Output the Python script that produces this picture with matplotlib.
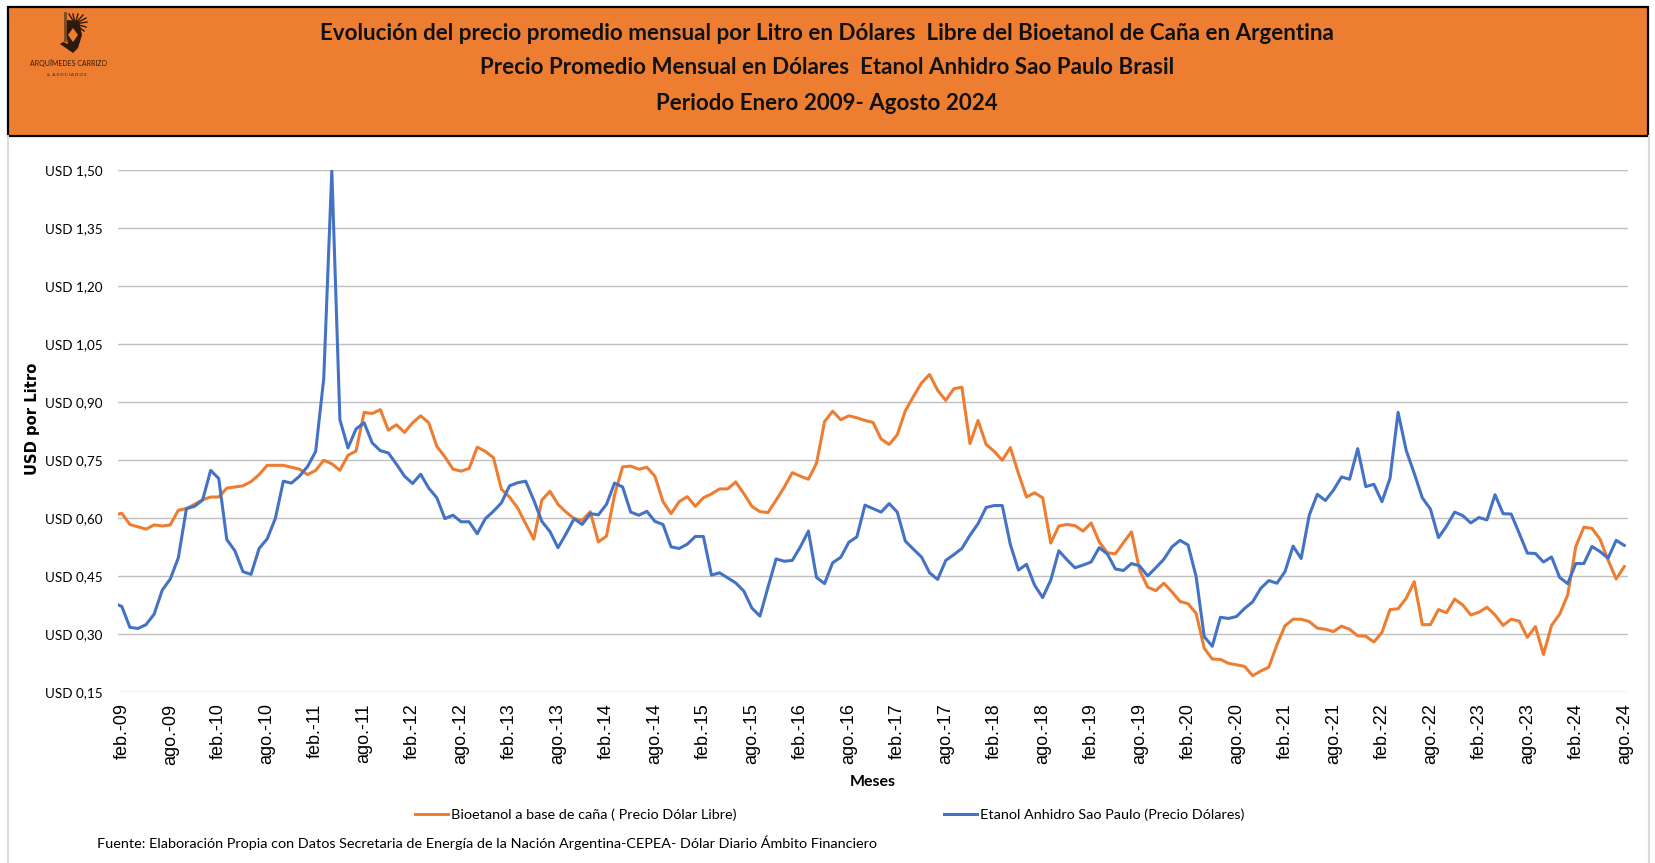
# %% imports
import matplotlib

matplotlib.use("Agg")
import matplotlib.pyplot as plt
import numpy as np
from matplotlib.lines import Line2D
from matplotlib.patches import Polygon, Rectangle

# %% data, first value of each series is ene.-09
bioetanol = [
    0.608, 0.613, 0.584, 0.578, 0.572, 0.583, 0.580, 0.583, 0.621, 0.625, 0.636, 0.648, 0.655, 0.655, 0.678, 0.681,
    0.684, 0.695, 0.713, 0.737, 0.737, 0.737, 0.732, 0.727, 0.713, 0.724, 0.750, 0.741, 0.724, 0.763, 0.774, 0.874,
    0.871, 0.881, 0.828, 0.842, 0.822, 0.847, 0.865, 0.847, 0.786, 0.759, 0.727, 0.722, 0.729, 0.784, 0.773, 0.757,
    0.675, 0.655, 0.627, 0.586, 0.546, 0.647, 0.670, 0.636, 0.616, 0.599, 0.595, 0.617, 0.539, 0.554, 0.660, 0.733,
    0.735, 0.727, 0.732, 0.709, 0.643, 0.612, 0.643, 0.656, 0.631, 0.653, 0.663, 0.676, 0.676, 0.694, 0.664, 0.631,
    0.617, 0.615, 0.647, 0.680, 0.718, 0.709, 0.701, 0.742, 0.850, 0.877, 0.855, 0.865, 0.860, 0.853, 0.848, 0.805,
    0.791, 0.816, 0.878, 0.915, 0.950, 0.972, 0.931, 0.905, 0.935, 0.939, 0.793, 0.853, 0.791, 0.773, 0.750, 0.783,
    0.716, 0.655, 0.666, 0.653, 0.536, 0.580, 0.584, 0.581, 0.567, 0.588, 0.539, 0.511, 0.508, 0.537, 0.565, 0.466,
    0.422, 0.413, 0.432, 0.410, 0.385, 0.379, 0.354, 0.264, 0.236, 0.235, 0.225, 0.221, 0.217, 0.193, 0.205, 0.215,
    0.273, 0.322, 0.339, 0.339, 0.333, 0.316, 0.313, 0.307, 0.321, 0.313, 0.296, 0.295, 0.280, 0.305, 0.364, 0.366,
    0.393, 0.436, 0.325, 0.325, 0.364, 0.356, 0.391, 0.376, 0.350, 0.357, 0.370, 0.350, 0.323, 0.339, 0.334, 0.292,
    0.320, 0.248, 0.323, 0.352, 0.402, 0.527, 0.577, 0.574, 0.546, 0.492, 0.443, 0.475,
]
etanol = [
    0.381, 0.372, 0.318, 0.315, 0.325, 0.352, 0.414, 0.443, 0.498, 0.625, 0.631, 0.647, 0.724, 0.703, 0.545, 0.516,
    0.462, 0.455, 0.522, 0.547, 0.599, 0.696, 0.691, 0.709, 0.734, 0.773, 0.961, 1.500, 0.855, 0.782, 0.831, 0.847,
    0.795, 0.775, 0.769, 0.740, 0.709, 0.690, 0.714, 0.678, 0.653, 0.599, 0.608, 0.591, 0.591, 0.560, 0.599, 0.618,
    0.640, 0.684, 0.692, 0.696, 0.647, 0.592, 0.566, 0.524, 0.560, 0.599, 0.584, 0.612, 0.609, 0.636, 0.691, 0.681,
    0.616, 0.608, 0.618, 0.592, 0.584, 0.526, 0.522, 0.533, 0.553, 0.553, 0.453, 0.459, 0.446, 0.433, 0.412, 0.368,
    0.347, 0.422, 0.495, 0.489, 0.491, 0.526, 0.567, 0.447, 0.431, 0.485, 0.499, 0.538, 0.552, 0.634, 0.625, 0.616,
    0.638, 0.616, 0.541, 0.520, 0.500, 0.459, 0.442, 0.491, 0.506, 0.522, 0.556, 0.586, 0.628, 0.633, 0.633, 0.532,
    0.466, 0.481, 0.427, 0.395, 0.440, 0.516, 0.493, 0.472, 0.479, 0.487, 0.524, 0.508, 0.469, 0.465, 0.483, 0.477,
    0.451, 0.472, 0.494, 0.526, 0.543, 0.531, 0.449, 0.294, 0.269, 0.344, 0.341, 0.346, 0.367, 0.384, 0.419, 0.439,
    0.432, 0.462, 0.528, 0.496, 0.608, 0.662, 0.646, 0.673, 0.707, 0.701, 0.780, 0.682, 0.688, 0.643, 0.703, 0.874,
    0.776, 0.716, 0.653, 0.624, 0.550, 0.580, 0.616, 0.607, 0.588, 0.602, 0.596, 0.661, 0.612, 0.611, 0.561, 0.510,
    0.509, 0.487, 0.500, 0.447, 0.431, 0.483, 0.483, 0.527, 0.514, 0.497, 0.543, 0.530,
]
y_ticks = [0.15, 0.30, 0.45, 0.60, 0.75, 0.90, 1.05, 1.20, 1.35, 1.50]
x_labels = [f"{m}.-{y:02d}" for y in range(9, 25) for m in ("feb", "ago")]
title_lines = [
    "Evolución del precio promedio mensual por Litro en Dólares  Libre del Bioetanol de Caña en Argentina",
    "Precio Promedio Mensual en Dólares  Etanol Anhidro Sao Paulo Brasil",
    "Periodo Enero 2009- Agosto 2024",
]

W, H = 1656, 863
ORANGE = "#ED7D31"
BLUE = "#4472C4"
DARK = "#2E1A0C"


def fx(px):
    return px / W


def fy(py):
    return 1 - py / H


# %% figure
fig = plt.figure(figsize=(W / 100, H / 100), dpi=100)

# side rules of the slide and the header band
fig.add_artist(Line2D([fx(8), fx(8)], [0, fy(136)], color="#DADADA", lw=1.4))
fig.add_artist(Line2D([fx(1649), fx(1649)], [0, fy(136)], color="#DADADA", lw=1.6))
fig.add_artist(
    Rectangle((fx(8), fy(136)), fx(1640), 129 / H, facecolor=ORANGE, edgecolor="black", lw=1.6)
)
for txt, py in zip(title_lines, [34, 68, 103]):
    fig.text(fx(827), fy(py), txt, ha="center", va="center", family="Lato", weight="bold", size=16.1, color="#111111")

# logo, rough
fig.add_artist(Line2D([fx(65), fx(65)], [fy(13), fy(40)], color="#7A4A20", lw=2.0))
feathers = [(-6, -10), (-2, -10), (3, -10), (8, -9), (11, -6), (12, -2), (11, 3), (9, 7)]
for dx, dy in feathers:
    fig.add_artist(Line2D([fx(75), fx(75 + dx)], [fy(24), fy(24 + dy)], color=DARK, lw=1.0))
fig.add_artist(Polygon(
    [(fx(67), fy(20)), (fx(79), fy(21)), (fx(82), fy(35)), (fx(78), fy(48)), (fx(73), fy(53)),
     (fx(60), fy(44)), (fx(63), fy(42)), (fx(68), fy(44)), (fx(66), fy(32))],
    closed=True, facecolor=DARK, edgecolor="none",
))
fig.add_artist(Polygon(
    [(fx(73), fy(28)), (fx(78), fy(35)), (fx(73), fy(42)), (fx(68), fy(35))],
    closed=True, facecolor=ORANGE, edgecolor="none",
))
fig.text(fx(69), fy(63), "ARQUÍMEDES CARRIZO", ha="center", va="center", family="Lato", size=5.0, color=DARK)
fig.text(fx(67), fy(75), "&  A S O C I A D O S", ha="center", va="center", family="Lato", size=3.2, color=DARK)

# %% chart
ax = fig.add_axes([fx(118), fy(692.3), fx(1628.3 - 118), (692.3 - 170.3) / H])
months = np.arange(len(bioetanol)) - 1
ax.plot(months, bioetanol, color=ORANGE, lw=2.2, label="Bioetanol a base de caña ( Precio Dólar Libre)")
ax.plot(months, etanol, color=BLUE, lw=2.2, label="Etanol Anhidro Sao Paulo (Precio Dólares)")
ax.set_xlim(-0.47, 186.5)
ax.set_ylim(0.15, 1.50)

ax.set_yticks(y_ticks)
ax.set_yticklabels([f"USD {v:.2f}".replace(".", ",") for v in y_ticks], family="Lato", size=9.7)
ax.set_xticks(np.arange(0, 187, 6))
ax.set_xticklabels(x_labels, rotation=90, family="Liberation Sans", size=13)
ax.tick_params(length=0)
ax.tick_params(axis="x", pad=8)
ax.tick_params(axis="y", pad=11)
ax.grid(axis="y", color="#BFBFBF", lw=1.0)
ax.set_axisbelow(True)
for s in ax.spines.values():
    s.set_visible(False)

fig.text(fx(32.5), fy(419), "USD por Litro", rotation=90, ha="center", va="center",
         family="DejaVu Sans", weight="bold", size=10.6)
fig.text(fx(873), fy(782), "Meses", ha="center", va="center", family="Lato", weight="bold", size=11.5)
fig.legend(
    loc="center left", bbox_to_anchor=(fx(415), fy(815)), ncol=2, frameon=False,
    prop={"family": "Lato", "size": 10.35}, handlelength=2.3, handletextpad=0.22, columnspacing=14.4,
    borderpad=0, borderaxespad=0,
)
fig.text(fx(97), fy(843), "Fuente: Elaboración Propia con Datos Secretaria de Energía de la Nación Argentina-CEPEA- Dólar Diario Ámbito Financiero",
         ha="left", va="center", family="Lato", size=10.4)

fig.savefig("out.png", dpi=100)
